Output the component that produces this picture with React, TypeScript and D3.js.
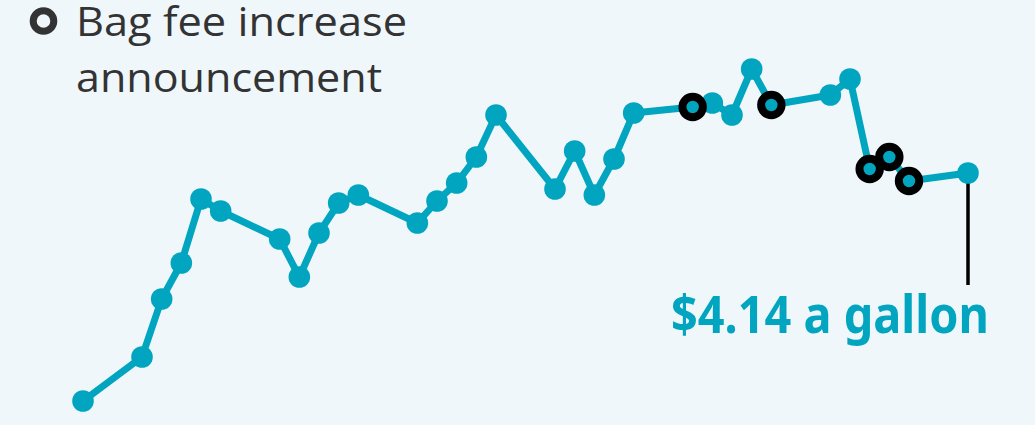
import React from "react";
import * as d3 from "d3";

// Trading-day index (weekdays, weekends skipped)
const days = [0, 3, 4, 5, 6, 7, 10, 11, 12, 13, 14, 17, 18, 19, 20, 21, 24, 25, 26, 27, 28, 31, 32, 33, 34, 35, 38, 39, 40, 41, 42, 45];
// Jet fuel price, $ per gallon
const prices = [3.0, 3.22, 3.51, 3.69, 4.01, 3.95, 3.81, 3.62, 3.84, 3.99, 4.03, 3.89, 4.0, 4.09, 4.22, 4.43, 4.06, 4.25, 4.03, 4.21, 4.44, 4.47, 4.49, 4.43, 4.66, 4.48, 4.53, 4.61, 4.16, 4.22, 4.1, 4.14];
// Days with a bag fee increase announcement
const announcementDays = [31, 35, 40, 41, 42];
const legendLines = ["Bag fee increase", "announcement"];
const endLabel = "$4.14 a gallon";

const W = 1035;
const H = 425;
const CYAN = "#02a5bf";
const BG = "#eff7fb";

export default function App() {
  const x = d3.scaleLinear().domain([0, 45]).range([83, 968]);
  const y = d3.scaleLinear().domain([3.0, 4.5]).range([401, 101]);
  const data = days.map((d, i) => ({ d, v: prices[i] }));
  const line = d3
    .line<{ d: number; v: number }>()
    .x((p) => x(p.d))
    .y((p) => y(p.v));
  const last = data[data.length - 1];
  const rings = data.filter((p) => announcementDays.includes(p.d));

  return (
    <svg
      width={W}
      height={H}
      style={{ position: "absolute", left: 0, top: 0, display: "block" }}
    >
      <rect x={0} y={0} width={W} height={H} fill={BG} />
      {/* legend */}
      <circle cx={43.5} cy={21} r={10.3} fill="none" stroke="#333" strokeWidth={7} />
      <g fontFamily="'Open Sans', 'Noto Sans', sans-serif" fontWeight={400} fontSize={40} fill="#333">
        <text x={76} y={36} textLength={331} lengthAdjust="spacingAndGlyphs">{legendLines[0]}</text>
        <text x={76} y={92} textLength={306} lengthAdjust="spacingAndGlyphs">{legendLines[1]}</text>
      </g>
      {/* leader line */}
      <line
        x1={x(last.d)}
        x2={x(last.d)}
        y1={y(last.v)}
        y2={285}
        stroke="#000"
        strokeWidth={3.5}
      />
      <path d={line(data) || ""} fill="none" stroke={CYAN} strokeWidth={7} strokeLinejoin="round" />
      {data.map((p, i) => (
        <circle key={i} cx={x(p.d)} cy={y(p.v)} r={10.8} fill={CYAN} />
      ))}
      {rings.map((p, i) => (
        <circle key={"r" + i} cx={x(p.d)} cy={y(p.v)} r={10.2} fill={CYAN} stroke="#000" strokeWidth={8} />
      ))}
      <text
        x={671}
        y={333}
        fontFamily="'Noto Sans', sans-serif"
        fontWeight={700}
        fontSize={52}
        fill={CYAN}
        textLength={318}
        lengthAdjust="spacingAndGlyphs"
      >
        {endLabel}
      </text>
    </svg>
  );
}
